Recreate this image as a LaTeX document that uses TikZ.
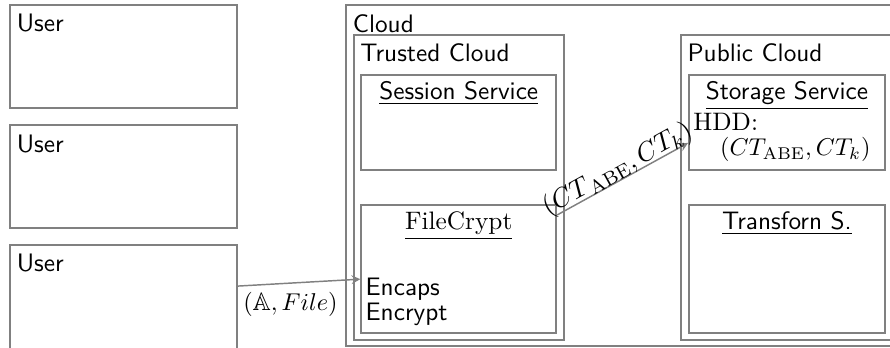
\documentclass[tikz,border=0pt]{standalone}
\usepackage{amssymb}
\usetikzlibrary{positioning}

\tikzset{
    box/.style={draw=gray, thick, inner sep=0pt, anchor=north west},
    boxname/.style={anchor=north west, font=\sffamily, inner xsep=3pt, inner ysep=4pt},
    boxhead/.style={anchor=north, inner sep=3pt},
    flow/.style={gray, semithick, -stealth},
    flowlabel/.style={text=black}
}

\begin{document}
\fontsize{10.4}{12.5}\selectfont
\begin{tikzpicture}
        
        \useasboundingbox (0,0) rectangle (12.87,5.018);
        \clip (0,0) rectangle (12.87,5.018);
        
        % users
        \node[box, minimum width=3.28cm, minimum height=1.49cm] (user1) at (0.13,4.96) {};
        \node[box, minimum width=3.28cm, minimum height=1.49cm] (user2) at (0.13,3.22) {};
        \node[box, minimum width=3.28cm, minimum height=1.55cm] (user3) at (0.13,1.49) {};
        \node[boxname] (user1name) at (user1.north west) {User};
        \node[boxname] (user2name) at (user2.north west) {User};
        \node[boxname] (user3name) at (user3.north west) {User};
        
        % cloud
        \node[box, minimum width=8.3cm, minimum height=4.93cm] (cloud) at (4.99,4.96) {};
        \node[boxname] (cloudname) at (cloud.north west) {Cloud};
        
        \node[box, minimum width=3.04cm, minimum height=4.42cm] (trusted) at (5.10,4.53) {};
        \node[boxname] (trustedname) at (trusted.north west) {Trusted Cloud};
        \node[box, minimum width=2.82cm, minimum height=1.37cm] (session) at (5.21,3.95) {};
        \node[boxhead, font=\sffamily] (sessionname) at (session.north) {\underline{Session Service}};
        \node[box, minimum width=2.82cm, minimum height=1.85cm] (filecrypt) at (5.21,2.07) {};
        \node[boxhead] (filecryptname) at (filecrypt.north) {\underline{FileCrypt}};
        \node[anchor=south west, font=\sffamily, align=left, inner xsep=2pt, inner ysep=3pt] (encaps) at (filecrypt.south west) {Encaps\\[-2pt]Encrypt};
        
        \node[box, minimum width=3.4cm, minimum height=4.42cm] (public) at (9.83,4.53) {};
        \node[boxname] (publicname) at (public.north west) {Public Cloud};
        \node[box, minimum width=2.83cm, minimum height=1.37cm] (storage) at (9.95,3.95) {};
        \node[boxhead, font=\sffamily] (storagename) at (storage.north) {\underline{Storage Service}};
        \node[anchor=north west, align=left, inner sep=2pt] (hdd) at ([yshift=-0.49cm]storage.north west) {HDD:\\[-2pt]\hspace*{11pt}$(CT_{\mathrm{ABE}}, CT_k)$};
        \node[box, minimum width=2.83cm, minimum height=1.85cm] (transform) at (9.95,2.07) {};
        \node[boxhead, font=\sffamily] (transformname) at (transform.north) {\underline{Transforn S.}};
        
        % messages
        \draw[flow] ([yshift=0.18cm]user3.east) --node[flowlabel, below, pos=0.43]{$(\mathbb{A}, File)$} ([yshift=-0.15cm]filecrypt.west);
        \draw[flow] ([yshift=-0.16cm]filecrypt.north east) --node[flowlabel, font=\fontsize{11.2}{13}\selectfont, above, sloped, inner sep=0pt, yshift=-1.5pt]{$(CT_{\,\mathrm{ABE}}, CT_k)$} ([yshift=-0.30cm]storage.west);
        
    \end{tikzpicture}
\end{document}
